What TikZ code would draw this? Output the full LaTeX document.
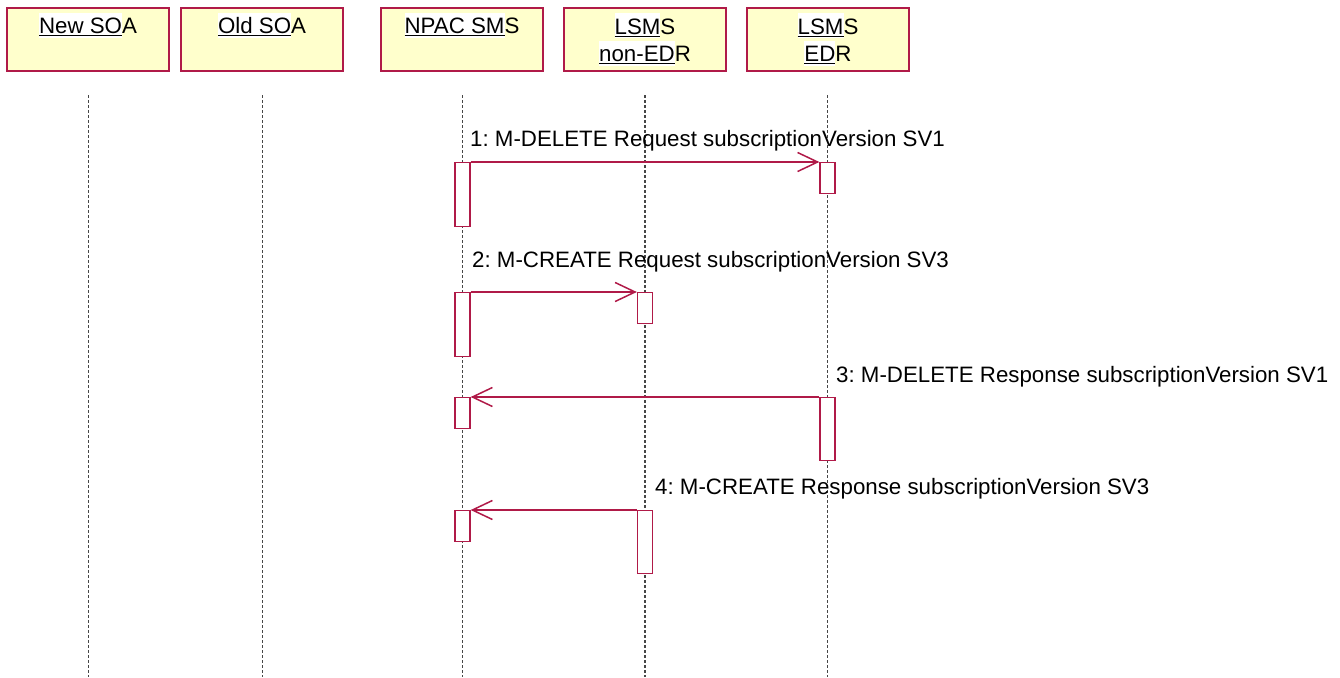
\documentclass[tikz,border=0pt]{standalone}
\usepackage{fontspec}
\setmainfont{Liberation Sans}
\usetikzlibrary{arrows.meta}
\definecolor{frame}{RGB}{176,26,72}
\definecolor{hdrfill}{RGB}{255,255,204}
\definecolor{lifegray}{RGB}{70,70,70}
\newcommand\hlu[1]{{\setlength{\fboxsep}{0pt}\colorbox{white}{\rule[-4pt]{0pt}{25pt}\underline{#1}}}}
\frenchspacing
\begin{document}
\begin{tikzpicture}[x=1pt,y=-1pt,
  font=\fontsize{22.3}{27.4}\selectfont,
  hdr/.style={draw=frame,fill=hdrfill,line width=1.3pt,minimum width=162pt,minimum height=63pt,inner sep=0pt},
  hdrtxt/.style={anchor=base,inner sep=0pt,align=center},
  life/.style={draw=lifegray,line width=1.2pt,dash pattern=on 3pt off 2pt},
  act/.style={draw=frame,fill=white,line width=1.3pt,minimum width=15pt,inner sep=0pt,anchor=north},
  msg/.style={draw=frame,line width=1.5pt,-{Straight Barb[length=20pt,width=19pt,line width=1.5pt]}},
  lbl/.style={anchor=base west,inner sep=0pt}]
\useasboundingbox (0,0) rectangle (1340,677);
% headers
\node[hdr] (newsoa) at (88,39.5) {};
\node[hdr] (oldsoa) at (262,39.5) {};
\node[hdr] (npac) at (462,39.5) {};
\node[hdr] (lsmsn) at (645,39.5) {};
\node[hdr] (lsmse) at (828,39.5) {};
\node[hdrtxt] (tnewsoa) at (88,34) {\hlu{New SO}A};
\node[hdrtxt] (toldsoa) at (262,34) {\hlu{Old SO}A};
\node[hdrtxt] (tnpac) at (462,34) {\hlu{NPAC SM}S};
\node[hdrtxt] (tlsmsn) at (645,61.6) {\hlu{LSM}S\\\hlu{non-ED}R};
\node[hdrtxt] (tlsmse) at (828,61.6) {\hlu{LSM}S\\\hlu{ED}R};
% lifelines
\foreach \n/\x in {newsoa/88.5,oldsoa/262.5,npac/462.5,lsmsn/645,lsmse/827.5}{
  \coordinate (\n top) at (\x,95);
  \coordinate (\n bot) at (\x,677);
  \draw[life] (\n top) -- (\n bot);
}
% activations
\node[act,minimum height=64pt] (a1) at (462.5,162) {};
\node[act,minimum height=31pt] (e1) at (827.5,162) {};
\node[act,minimum height=64pt] (a2) at (462.5,292) {};
\node[act,minimum height=31pt] (n2) at (645,292) {};
\node[act,minimum height=31pt] (a3) at (462.5,397) {};
\node[act,minimum height=63pt] (e3) at (827.5,397) {};
\node[act,minimum height=31pt] (a4) at (462.5,510) {};
\node[act,minimum height=63pt] (n4) at (645,510) {};
% messages
\draw[msg] (a1.north east) -- (e1.north west);
\draw[msg] (a2.north east) -- (n2.north west);
\draw[msg] (e3.north west) -- (a3.north east);
\draw[msg] (n4.north west) -- (a4.north east);
% labels
\node[lbl] (l1) at (470,146) {1: M-DELETE Request subscriptionVersion SV1};
\node[lbl] (l2) at (472,267) {2: M-CREATE Request subscriptionVersion SV3};
\node[lbl] (l3) at (836,382) {3: M-DELETE Response subscriptionVersion SV1};
\node[lbl] (l4) at (655,494) {4: M-CREATE Response subscriptionVersion SV3};
\end{tikzpicture}
\end{document}
